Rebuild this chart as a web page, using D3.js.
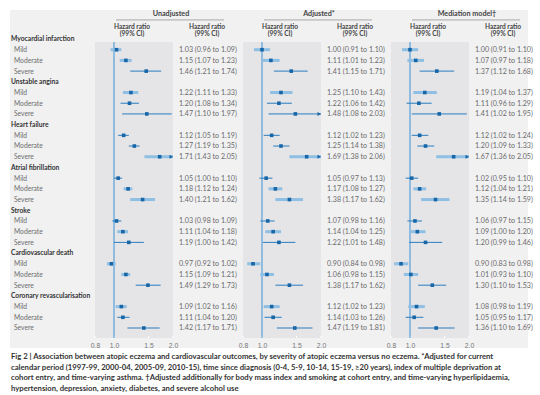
<!DOCTYPE html>
<html>
<head>
<meta charset="utf-8">
<script src="https://cdn.jsdelivr.net/npm/d3@7"></script>
<style>
  html,body{margin:0;padding:0;background:#fff;}
  svg{display:block;font-family:Lato,"Open Sans",sans-serif;}
  .grp{font-weight:700;fill:#333;font-size:6.7px;}
  .sev{fill:#6e6e6e;font-size:6.7px;}
  .hr{fill:#6a6a6a;font-size:7.1px;}
  .hdr{font-weight:700;fill:#444;font-size:6.6px;}
  .tick{fill:#777;font-size:6.8px;}
  .cap{fill:#333;font-size:7.7px;font-weight:700;}
</style>
</head>
<body>
<div id="chart"></div>
<script>
/* Forest plot: atopic eczema severity vs cardiovascular outcomes,
   three model panels (unadjusted, adjusted, mediation). Log HR axis. */
var outcomes=["Myocardial infarction","Unstable angina","Heart failure","Atrial fibrillation","Stroke","Cardiovascular death","Coronary revascularisation"];
var severities=["Mild","Moderate","Severe"];
var models=["Unadjusted","Adjusted*","Mediation model\u2020"];
var ticks=[0.8,1.0,1.5,2.0];

// [hazard ratio, lower, upper] per outcome x severity, in row order
var unadjusted=[
  [1.03,0.96,1.09],[1.15,1.07,1.23],[1.46,1.21,1.74],
  [1.22,1.11,1.33],[1.20,1.08,1.34],[1.47,1.10,1.97],
  [1.12,1.05,1.19],[1.27,1.19,1.35],[1.71,1.43,2.05],
  [1.05,1.00,1.10],[1.18,1.12,1.24],[1.40,1.21,1.62],
  [1.03,0.98,1.09],[1.11,1.04,1.18],[1.19,1.00,1.42],
  [0.97,0.92,1.02],[1.15,1.09,1.21],[1.49,1.29,1.73],
  [1.09,1.02,1.16],[1.11,1.04,1.20],[1.42,1.17,1.71]];
var adjusted=[
  [1.00,0.91,1.10],[1.11,1.01,1.23],[1.41,1.15,1.71],
  [1.25,1.10,1.43],[1.22,1.06,1.42],[1.48,1.08,2.03],
  [1.12,1.02,1.23],[1.25,1.14,1.38],[1.69,1.38,2.06],
  [1.05,0.97,1.13],[1.17,1.08,1.27],[1.38,1.17,1.62],
  [1.07,0.98,1.16],[1.14,1.04,1.25],[1.22,1.01,1.48],
  [0.90,0.84,0.98],[1.06,0.98,1.15],[1.38,1.17,1.62],
  [1.12,1.02,1.23],[1.14,1.03,1.26],[1.47,1.19,1.81]];
var mediation=[
  [1.00,0.91,1.10],[1.07,0.97,1.18],[1.37,1.12,1.68],
  [1.19,1.04,1.37],[1.11,0.96,1.29],[1.41,1.02,1.95],
  [1.12,1.02,1.24],[1.20,1.09,1.33],[1.67,1.36,2.05],
  [1.02,0.95,1.10],[1.12,1.04,1.21],[1.35,1.14,1.59],
  [1.06,0.97,1.15],[1.09,1.00,1.20],[1.20,0.99,1.46],
  [0.90,0.83,0.98],[1.01,0.93,1.10],[1.30,1.10,1.53],
  [1.08,0.98,1.19],[1.05,0.95,1.17],[1.36,1.10,1.69]];
// rows drawn with the wide pale band instead of the thin line
var shadedRows=[0,1,3,8,10,11,13,15,16,18];

var caption=[
  "Fig 2 | Association between atopic eczema and cardiovascular outcomes, by severity of atopic eczema versus no eczema. *Adjusted for current",
  "calendar period (1997-99, 2000-04, 2005-09, 2010-15), time since diagnosis (0-4, 5-9, 10-14, 15-19, \u226520 years), index of multiple deprivation at",
  "cohort entry, and time-varying asthma. \u2020Adjusted additionally for body mass index and smoking at cohort entry, and time-varying hyperlipidaemia,",
  "hypertension, depression, anxiety, diabetes, and severe alcohol use"];

var W=540,H=395;
var svg=d3.select("#chart").append("svg").attr("width",W).attr("height",H);
svg.append("rect").attr("x",10).attr("y",10).attr("width",518).attr("height",338).attr("fill","#f1f1f2");

// row layout: header row per outcome then its three severities
var rows=[];
outcomes.forEach(function(o,i){
  rows.push({key:"g"+i,label:o,group:true});
  severities.forEach(function(s,j){rows.push({key:"r"+i+"_"+j,label:s,group:false,idx:i*3+j});});
});
var y=d3.scalePoint().domain(rows.map(function(r){return r.key;})).range([39,328]);

svg.selectAll("text.lbl").data(rows).enter().append("text")
  .attr("class",function(d){return d.group?"grp":"sev";})
  .attr("x",function(d){return d.group?11:14;})
  .attr("y",function(d){return y(d.key)+2.4;})
  .text(function(d){return d.label;});

var fmt=d3.format(".2f");
var sets=[unadjusted,adjusted,mediation];
var panelX=[95,243,391], pw=78, pTop=42, pBot=338;
var blue="#2a7dc0", dark="#1766a8", pale="#90bfe4";

models.forEach(function(name,m){
  var x0=panelX[m], data=sets[m];
  var x=d3.scaleLog().domain([0.8,2.0]).range([x0,x0+pw]);
  var g=svg.append("g");

  g.append("text").attr("class","hdr").attr("x",x0+76).attr("y",16).attr("text-anchor","middle").style("font-size","7.2px").text(name);
  g.append("rect").attr("x",x0+21).attr("y",19.6).attr("width",108).attr("height",0.7).attr("fill","#8a8a8a");
  [[x0+37,"Hazard ratio"],[x0+112,"Hazard ratio"]].forEach(function(h){
    g.append("text").attr("class","hdr").attr("x",h[0]).attr("y",28.5).attr("text-anchor","middle").text(h[1]);
    g.append("text").attr("class","hdr").attr("x",h[0]).attr("y",35.5).attr("text-anchor","middle").text("(99% CI)");
  });

  g.append("rect").attr("x",x0).attr("y",pTop).attr("width",pw).attr("height",pBot-pTop).attr("fill","#e5e5e7");

  var ax=g.append("g").attr("class","xaxis").attr("transform","translate(0,"+pBot+")")
    .call(d3.axisBottom(x).tickValues(ticks).tickSize(0).tickPadding(4).tickFormat(d3.format(".1f")));
  ax.select(".domain").remove();
  ax.selectAll("line").remove();
  ax.selectAll("text").attr("class","tick").attr("font-family",null).attr("font-size",null).attr("fill",null).attr("dy","0.9em");
  // little white notches on the panel's lower edge
  g.selectAll("rect.notch").data(ticks).enter().append("rect").attr("class","notch")
    .attr("x",function(t){return x(t)-0.5;}).attr("y",pBot-2).attr("width",1).attr("height",2).attr("fill","#fff");

  // no-effect line at HR = 1
  g.append("rect").attr("x",x(1)-0.5).attr("y",pTop).attr("width",1).attr("height",pBot-pTop).attr("fill","#3d93d6");

  var items=rows.filter(function(r){return !r.group;});
  items.forEach(function(r){
    var d=data[r.idx], yy=y(r.key);
    var shaded=shadedRows.indexOf(r.idx)>=0;
    var hi=Math.min(d[2],2.0), h=shaded?3:1;
    g.append("rect").attr("x",x(d[1])).attr("width",x(hi)-x(d[1])).attr("y",yy-h/2).attr("height",h)
      .attr("fill",shaded?pale:blue);
    if(d[2]>2.0){ // CI runs off the axis: arrow head
      var xe=x(2.0);
      g.append("path").attr("d","M"+(xe-3.5)+","+(yy-2)+"L"+xe+","+yy+"L"+(xe-3.5)+","+(yy+2)+"Z").attr("fill",dark);
    }
    g.append("rect").attr("x",x(d[0])-1.8).attr("y",yy-1.8).attr("width",3.6).attr("height",3.6).attr("fill",dark);
    g.append("text").attr("class","hr").attr("x",x0+84).attr("y",yy+2.4)
      .text(fmt(d[0])+" ("+fmt(d[1])+" to "+fmt(d[2])+")");
  });
});

svg.selectAll("text.capl").data(caption).enter().append("text").attr("class","cap")
  .attr("x",11).attr("y",function(d,i){return 359+i*10.6;}).text(function(d){return d;});
</script>
</body>
</html>
